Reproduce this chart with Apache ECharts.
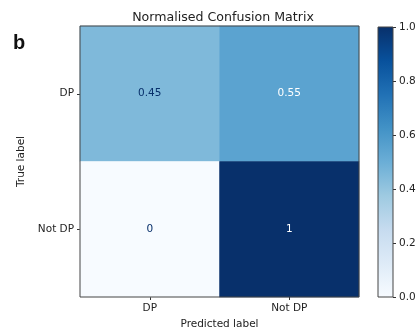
<!DOCTYPE html>
<html>
<head>
<meta charset="utf-8">
<script src="https://cdn.jsdelivr.net/npm/echarts@6/dist/echarts.min.js"></script>
<style>html,body{margin:0;padding:0;background:#fff}#c{width:418px;height:330px}</style>
</head>
<body>
<div id="c"></div>
<script>
var predictedLabels = ['DP', 'Not DP'];
var trueLabels = ['DP', 'Not DP'];
// rows: true label, columns: predicted label
var matrixValues = [
  [0.45, 0.55],
  [0, 1]
];
var colorbarTicks = [0, 0.2, 0.4, 0.6, 0.8, 1.0];
var bluesMap = ['#f7fbff', '#deebf7', '#c6dbef', '#9ecae1', '#6baed6', '#4292c6', '#2171b5', '#08519c', '#08306b'];

var FONT = 'DejaVu Sans';
var heatData = [];
for (var r = 0; r < trueLabels.length; r++) {
  for (var c = 0; c < predictedLabels.length; c++) {
    var v = matrixValues[r][c];
    heatData.push({
      value: [c, r, v],
      label: { color: v > 0.5 ? '#ffffff' : '#08306b' }
    });
  }
}
var gradStops = bluesMap.map(function (col, i) {
  return { offset: 1 - i / (bluesMap.length - 1), color: col };
});

var chart = echarts.init(document.getElementById('c'), null, { renderer: 'canvas' });
chart.setOption({
  animation: false,
  backgroundColor: '#ffffff',
  textStyle: { fontFamily: FONT },
  title: [
    { text: 'Normalised Confusion Matrix', left: 218, top: 6, textAlign: 'center',
      textStyle: { fontFamily: FONT, fontSize: 12.6, fontWeight: 'normal', color: '#222' } },
    { text: 'b', left: 8, top: 28,
      textStyle: { fontFamily: 'Liberation Sans', fontSize: 20, fontWeight: 'bold', color: '#111' } }
  ],
  grid: [
    { left: 80, top: 26, width: 279, height: 271, outerBoundsMode: 'none', containLabel: false,
      show: true, borderColor: '#444', borderWidth: 1, backgroundColor: 'transparent', z: 5 },
    { left: 378, top: 27, width: 15, height: 270, outerBoundsMode: 'none', containLabel: false,
      show: true, borderColor: '#444', borderWidth: 1, backgroundColor: 'transparent', z: 5 }
  ],
  visualMap: {
    show: false, min: 0, max: 1, dimension: 2, seriesIndex: 0,
    inRange: { color: bluesMap }
  },
  xAxis: [
    { gridIndex: 0, type: 'category', data: predictedLabels, name: 'Predicted label',
      nameLocation: 'middle', nameGap: 21,
      nameTextStyle: { fontFamily: FONT, fontSize: 10.5, color: '#222' },
      axisLine: { show: false }, splitLine: { show: false },
      axisTick: { show: true, alignWithLabel: true, length: 3, lineStyle: { color: '#333' } },
      axisLabel: { fontFamily: FONT, fontSize: 10.5, color: '#222', margin: 6 } },
    { gridIndex: 1, type: 'category', data: ['c'], show: false }
  ],
  yAxis: [
    { gridIndex: 0, type: 'category', data: trueLabels, inverse: true, name: 'True label',
      nameLocation: 'middle', nameGap: 40, nameRotate: 90,
      nameTextStyle: { fontFamily: FONT, fontSize: 10.5, color: '#222' },
      axisLine: { show: false }, splitLine: { show: false },
      axisTick: { show: true, alignWithLabel: true, length: 3, lineStyle: { color: '#333' } },
      axisLabel: { fontFamily: FONT, fontSize: 10.5, color: '#222', margin: 6 } },
    { gridIndex: 1, type: 'value', min: 0, max: 1, interval: 0.2, position: 'right',
      axisLine: { show: false }, splitLine: { show: false },
      axisTick: { show: true, length: 3, lineStyle: { color: '#333' } },
      axisLabel: { fontFamily: FONT, fontSize: 10.5, color: '#222', margin: 6,
        formatter: function (v) { return v.toFixed(1); } } }
  ],
  series: [
    { type: 'heatmap', xAxisIndex: 0, yAxisIndex: 0, data: heatData,
      label: { show: true, fontFamily: FONT, fontSize: 10.5,
        formatter: function (p) { return String(p.value[2]); } },
      emphasis: { disabled: true } },
    { type: 'bar', xAxisIndex: 1, yAxisIndex: 1, data: [colorbarTicks[colorbarTicks.length - 1]],
      barWidth: '100%', silent: true,
      itemStyle: { color: new echarts.graphic.LinearGradient(0, 0, 0, 1, gradStops) } }
  ]
});
</script>
</body>
</html>
